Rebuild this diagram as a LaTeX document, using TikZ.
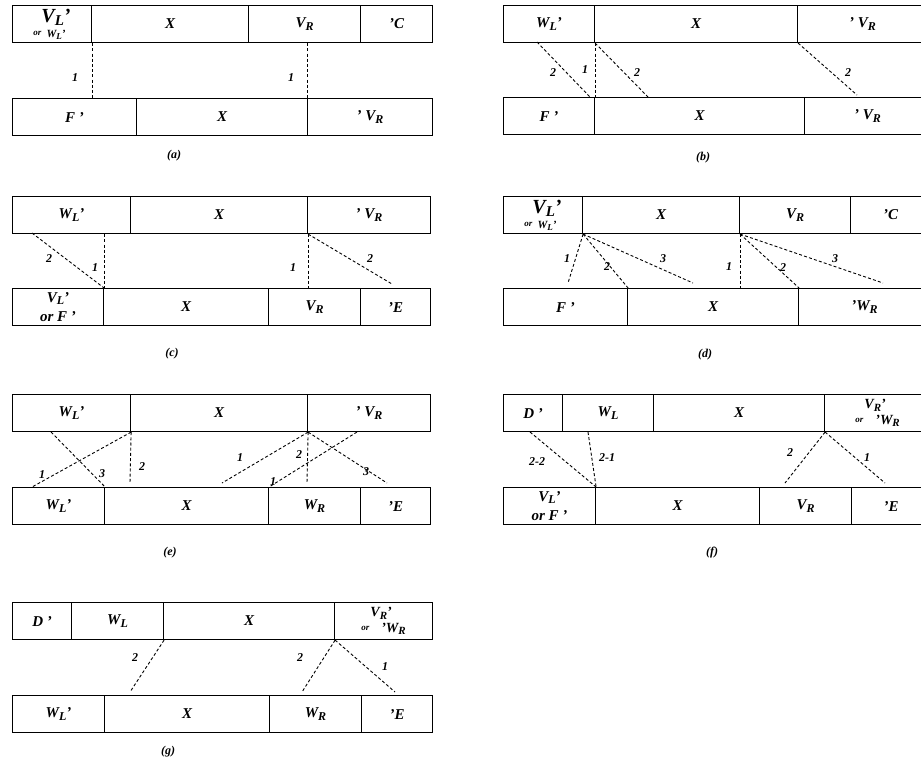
\documentclass[tikz,border=0pt]{standalone}
\usepackage{fontspec}
\setmainfont{Liberation Serif}
\usetikzlibrary{calc}

\newcommand\cellfont{\fontsize{15}{17}\selectfont\bfseries\itshape}
\newcommand\numfont{\fontsize{12}{13}\selectfont\bfseries\itshape}
\newcommand\lo[2][12]{\raisebox{-0.4ex}{\fontsize{#1}{#1}\selectfont #2}}
\newcommand\orsmall{\raisebox{0.2ex}{\fontsize{9}{9}\selectfont or}}
\newcommand\orVW{\orsmall\shortstack{{\fontsize{20}{18}\selectfont V\lo[15]{L}’}\\[1pt]{\fontsize{11}{11}\selectfont W\lo[9]{L}’}}}
\newcommand\orVF{\shortstack{V\lo{L}’\\[4pt]or F ’}}
\newcommand\orVRW{\raisebox{-3pt}{\shortstack[r]{{\fontsize{14}{14}\selectfont V\lo[11]{R}’}\hspace*{14pt}\\[1pt]\orsmall\hspace{12pt}{\fontsize{14}{14}\selectfont ’W\lo[11]{R}}}}}

\tikzset{
	cell/.style={draw, line width=1.1pt, anchor=north west, minimum height=37pt, inner sep=0pt, font=\cellfont},
	link/.style={line width=0.9pt, dash pattern=on 3pt off 2.2pt},
	num/.style={font=\numfont, inner sep=0pt},
	captext/.style={font=\numfont, inner sep=0pt}
}

\begin{document}
\begin{tikzpicture}[x=1pt, y=-1pt]
			\useasboundingbox (0,0) rectangle (921,769);
			
			% (a)
			\node[cell, minimum width=79pt] (aT1) at (12,5) {\orVW};
			\node[cell, minimum width=157pt] (aT2) at (91,5) {X};
			\node[cell, minimum width=112pt] (aT3) at (248,5) {V\lo{R}};
			\node[cell, minimum width=72pt] (aT4) at (360,5) {’C};
			\node[cell, minimum width=124pt] (aB1) at (12,98) {F ’};
			\node[cell, minimum width=171pt] (aB2) at (136,98) {X};
			\node[cell, minimum width=125pt] (aB3) at (307,98) {’ V\lo{R}};
			
			\coordinate (aP1) at (aT1.south east |- aB1.north);
			\coordinate (aP2) at (aB3.north west |- aT3.south);
			\draw[link] (aT1.south east) -- (aP1);
			\draw[link] (aP2) -- (aB3.north west);
			
			\node[num] (aN1) at (75,78) {1};
			\node[num] (aN2) at (291,78) {1};
			\node[captext] (aCap) at (174,156) {(a)};
			
			% (b)
			\node[cell, minimum width=91pt] (bT1) at (503,5) {W\lo{L}’};
			\node[cell, minimum width=203pt] (bT2) at (594,5) {X};
			\node[cell, minimum width=130pt] (bT3) at (797,5) {’ V\lo{R}};
			\node[cell, minimum width=91pt] (bB1) at (503,97) {F ’};
			\node[cell, minimum width=210pt] (bB2) at (594,97) {X};
			\node[cell, minimum width=126pt] (bB3) at (804,97) {’ V\lo{R}};
			
			\coordinate (bP1) at (537,42);
			\coordinate (bP2) at (590,97);
			\coordinate (bP3) at (648,97);
			\coordinate (bP4) at (857,95);
			\draw[link] (bP1) -- (bP2);
			\draw[link] (bT1.south east) -- (bB1.north east);
			\draw[link] (bT1.south east) -- (bP3);
			\draw[link] (bT2.south east) -- (bP4);
			
			\node[num] (bN1) at (553,73) {2};
			\node[num] (bN2) at (585,70) {1};
			\node[num] (bN3) at (637,73) {2};
			\node[num] (bN4) at (848,73) {2};
			\node[captext] (bCap) at (703,158) {(b)};
			
			% (c)
			\node[cell, minimum width=118pt] (cT1) at (12,196) {W\lo{L}’};
			\node[cell, minimum width=177pt] (cT2) at (130,196) {X};
			\node[cell, minimum width=123pt] (cT3) at (307,196) {’ V\lo{R}};
			\node[cell, minimum width=91pt] (cB1) at (12,288) {\orVF};
			\node[cell, minimum width=165pt] (cB2) at (103,288) {X};
			\node[cell, minimum width=92pt] (cB3) at (268,288) {V\lo{R}};
			\node[cell, minimum width=70pt] (cB4) at (360,288) {’E};
			
			\coordinate (cP1) at (32,233);
			\coordinate (cP2) at (cB1.north east |- cT1.south);
			\coordinate (cP3) at (cT2.south east |- cB1.north);
			\coordinate (cP4) at (392,284);
			\draw[link] (cP1) -- (cB1.north east);
			\draw[link] (cP2) -- (cB1.north east);
			\draw[link] (cT2.south east) -- (cP3);
			\draw[link] (cT2.south east) -- (cP4);
			
			\node[num] (cN1) at (49,259) {2};
			\node[num] (cN2) at (95,268) {1};
			\node[num] (cN3) at (293,268) {1};
			\node[num] (cN4) at (370,259) {2};
			\node[captext] (cCap) at (172,354) {(c)};
			
			% (d)
			\node[cell, minimum width=79pt] (dT1) at (503,196) {\orVW};
			\node[cell, minimum width=157pt] (dT2) at (582,196) {X};
			\node[cell, minimum width=111pt] (dT3) at (739,196) {V\lo{R}};
			\node[cell, minimum width=80pt] (dT4) at (850,196) {’C};
			\node[cell, minimum width=124pt] (dB1) at (503,288) {F ’};
			\node[cell, minimum width=171pt] (dB2) at (627,288) {X};
			\node[cell, minimum width=132pt] (dB3) at (798,288) {’W\lo{R}};
			
			\coordinate (dP1) at (568,283);
			\coordinate (dP2) at (693,283);
			\coordinate (dP3) at (dT2.south east |- dB1.north);
			\coordinate (dP4) at (883,283);
			\draw[link] (dT1.south east) -- (dP1);
			\draw[link] (dT1.south east) -- (dB1.north east);
			\draw[link] (dT1.south east) -- (dP2);
			\draw[link] (dT2.south east) -- (dP3);
			\draw[link] (dT2.south east) -- (dB2.north east);
			\draw[link] (dT2.south east) -- (dP4);
			
			\node[num] (dN1) at (567,259) {1};
			\node[num] (dN2) at (607,267) {2};
			\node[num] (dN3) at (663,259) {3};
			\node[num] (dN4) at (729,267) {1};
			\node[num] (dN5) at (783,268) {2};
			\node[num] (dN6) at (835,259) {3};
			\node[captext] (dCap) at (705,355) {(d)};
			
			% (e)
			\node[cell, minimum width=118pt] (eT1) at (12,394) {W\lo{L}’};
			\node[cell, minimum width=177pt] (eT2) at (130,394) {X};
			\node[cell, minimum width=123pt] (eT3) at (307,394) {’ V\lo{R}};
			\node[cell, minimum width=92pt] (eB1) at (12,487) {W\lo{L}’};
			\node[cell, minimum width=164pt] (eB2) at (104,487) {X};
			\node[cell, minimum width=92pt] (eB3) at (268,487) {W\lo{R}};
			\node[cell, minimum width=70pt] (eB4) at (360,487) {’E};
			
			\coordinate (eP1) at (51,432);
			\coordinate (eP2) at (32,487);
			\coordinate (eP3) at (130,483);
			\coordinate (eP4) at (222,483);
			\coordinate (eP5) at (307,483);
			\coordinate (eP6) at (387,483);
			\coordinate (eP7) at (357,432);
			\draw[link] (eP1) -- (eB1.north east);
			\draw[link] (eT1.south east) -- (eP2);
			\draw[link] (eT1.south east) -- (eP3);
			\draw[link] (eT2.south east) -- (eP4);
			\draw[link] (eT2.south east) -- (eP5);
			\draw[link] (eT2.south east) -- (eP6);
			\draw[link] (eP7) -- (eB2.north east);
			
			\node[num] (eN1) at (102,474) {3};
			\node[num] (eN2) at (42,475) {1};
			\node[num] (eN3) at (142,467) {2};
			\node[num] (eN4) at (240,458) {1};
			\node[num] (eN5) at (299,455) {2};
			\node[num] (eN6) at (366,472) {3};
			\node[num] (eN7) at (273,482) {1};
			\node[captext] (eCap) at (170,553) {(e)};
			
			% (f)
			\node[cell, minimum width=59pt] (fT1) at (503,394) {D ’};
			\node[cell, minimum width=91pt] (fT2) at (562,394) {W\lo{L}};
			\node[cell, minimum width=171pt] (fT3) at (653,394) {X};
			\node[cell, minimum width=106pt] (fT4) at (824,394) {\orVRW};
			\node[cell, minimum width=92pt] (fB1) at (503,487) {\orVF};
			\node[cell, minimum width=164pt] (fB2) at (595,487) {X};
			\node[cell, minimum width=92pt] (fB3) at (759,487) {V\lo{R}};
			\node[cell, minimum width=79pt] (fB4) at (851,487) {’E};
			
			\coordinate (fP1) at (530,432);
			\coordinate (fP2) at (588,432);
			\coordinate (fP3) at (785,483);
			\coordinate (fP4) at (885,483);
			\draw[link] (fP1) -- (fB1.north east);
			\draw[link] (fP2) -- (fB1.north east);
			\draw[link] (fT3.south east) -- (fP3);
			\draw[link] (fT3.south east) -- (fP4);
			
			\node[num] (fN1) at (537,462) {2-2};
			\node[num] (fN2) at (607,458) {2-1};
			\node[num] (fN3) at (790,453) {2};
			\node[num] (fN4) at (867,458) {1};
			\node[captext] (fCap) at (712,553) {(f)};
			
			% (g)
			\node[cell, minimum width=59pt] (gT1) at (12,602) {D ’};
			\node[cell, minimum width=92pt] (gT2) at (71,602) {W\lo{L}};
			\node[cell, minimum width=171pt] (gT3) at (163,602) {X};
			\node[cell, minimum width=98pt] (gT4) at (334,602) {\orVRW};
			\node[cell, minimum width=92pt] (gB1) at (12,695) {W\lo{L}’};
			\node[cell, minimum width=165pt] (gB2) at (104,695) {X};
			\node[cell, minimum width=92pt] (gB3) at (269,695) {W\lo{R}};
			\node[cell, minimum width=71pt] (gB4) at (361,695) {’E};
			
			\coordinate (gP1) at (130,692);
			\coordinate (gP2) at (302,692);
			\coordinate (gP3) at (395,692);
			\draw[link] (gT2.south east) -- (gP1);
			\draw[link] (gT3.south east) -- (gP2);
			\draw[link] (gT3.south east) -- (gP3);
			
			\node[num] (gN1) at (135,658) {2};
			\node[num] (gN2) at (300,658) {2};
			\node[num] (gN3) at (385,667) {1};
			\node[captext] (gCap) at (168,752) {(g)};
\end{tikzpicture}
\end{document}
